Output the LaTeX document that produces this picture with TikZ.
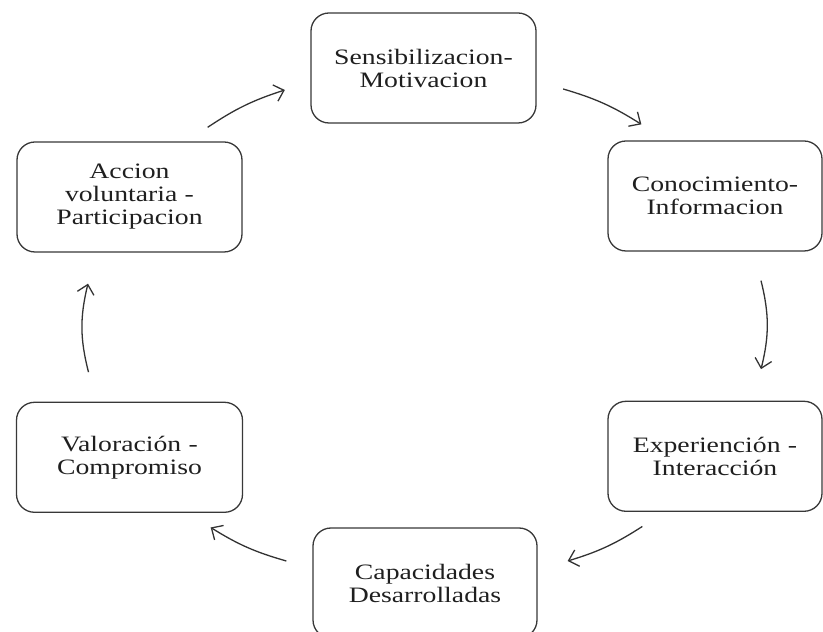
\documentclass[tikz,border=0pt]{standalone}
\usepackage{fontspec}
\setmainfont{Liberation Serif}[FakeStretch=1.26]
\usepackage{tikz}
\usetikzlibrary{positioning,arrows.meta}

\begin{document}
\begin{tikzpicture}[x=1pt, y=1pt,
    etapa/.style={draw=black!78, line width=1.3pt, rounded corners=18pt,
      minimum height=110pt, text width=205pt, align=center, inner sep=0pt,
      font=\fontsize{22}{23}\selectfont, text=black!88},
    ciclo/.style={-{Straight Barb[length=9pt,width=17pt]}, draw=black!80, line width=1.3pt}]
  \useasboundingbox (0,0) rectangle (823,632);

  \node[etapa, minimum width=225pt] (sens) at (423.5,564) {Sensibilizacion-\\Motivacion};
  \node[etapa, minimum width=225pt] (acc) at (129.5,435) {Accion\\voluntaria -\\Participacion};
  \node[etapa, minimum width=214pt] (cono) at (715,436) {Conocimiento-\\Informacion};
  \node[etapa, minimum width=226pt, below=149pt of acc] (valo) {Valoración -\\Compromiso};
  \node[etapa, minimum width=214pt, below=149pt of cono] (expe) {Experiención -\\Interacción};
  \node[etapa, minimum width=224pt] (capa) at (425,49) {Capacidades\\Desarrolladas};

  \draw[ciclo] ([shift={(-35,14)}]acc.north east) to[bend left=8] ([shift={(-25.5,-22)}]sens.west);
  \draw[ciclo] ([shift={(26.5,-21)}]sens.east) to[bend left=8] ([shift={(34,16)}]cono.north west);
  \draw[ciclo] ([shift={(46,-29)}]cono.south) to[bend left=14] ([shift={(46,31.5)}]expe.north);
  \draw[ciclo] ([shift={(35,-14.5)}]expe.south west) to[bend left=8] ([shift={(30,22)}]capa.east);
  \draw[ciclo] ([shift={(-26,22)}]capa.west) to[bend left=8] ([shift={(-32.5,-14.5)}]valo.south east);
  \draw[ciclo] ([shift={(-41,29.5)}]valo.north) to[bend left=14] ([shift={(-41.5,-31)}]acc.south);
\end{tikzpicture}
\end{document}
